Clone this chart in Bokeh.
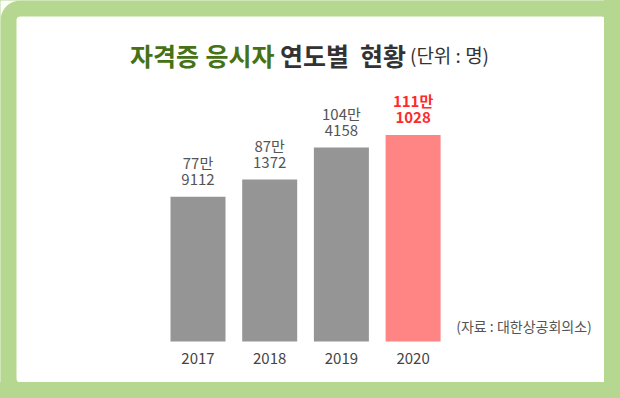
from bokeh.plotting import figure
from bokeh.models import Range1d, BoxAnnotation, ColumnDataSource, GlobalInlineStyleSheet
from bokeh.core.properties import value
from bokeh.embed import file_html
from bokeh.resources import INLINE

# ---- data ----
years = ["2017", "2018", "2019", "2020"]
applicants = [779112, 871372, 1044158, 1111028]
bar_colors = ["#959595", "#959595", "#959595", "#ff8585"]
label_colors = ["#555555", "#555555", "#555555", "#ff2a2a"]
label_styles = ["normal", "normal", "normal", "bold"]
title_words = ["자격증", "응시자", "연도별", "현황"]
title_colors = ["#467114", "#467114", "#333333", "#333333"]
unit_text = "(단위 : 명)"
source_note = "(자료 : 대한상공회의소)"

FONT = "Noto Sans CJK KR"
W, H = 604, 382
GREEN = "#b5d78f"

p = figure(width=W, height=H, x_range=Range1d(0, W), y_range=Range1d(0, H),
           x_axis_type=None, y_axis_type=None, output_backend="svg",
           toolbar_location=None, min_border=0,
           background_fill_color="white", border_fill_color="white",
           outline_line_color=None)
p.stylesheets = [GlobalInlineStyleSheet(css="html,body{margin:0;padding:0;background:%s;}" % GREEN)]

# green frame with rounded corner, and white panel
p.add_layout(BoxAnnotation(left=0, right=W + 40, bottom=-40, top=H,
                           fill_color=GREEN, fill_alpha=1, line_color=None,
                           border_radius=20, level="underlay"))
p.add_layout(BoxAnnotation(left=16, right=605, bottom=0, top=H - 16,
                           fill_color="white", fill_alpha=1, line_color=None,
                           border_radius=4, level="underlay"))

# scales for bars
p.extra_x_ranges = {"yr": Range1d(-2.7545, 5.6695)}
p.extra_y_ranges = {"val": Range1d(-220550, 1834320)}

idx = list(range(len(years)))
src = ColumnDataSource(dict(
    x=idx, year=years, v=applicants, color=bar_colors, lc=label_colors, ls=label_styles,
    top_line=[f"{v // 10000}만" for v in applicants],
    bot_line=[f"{v % 10000:04d}" for v in applicants],
))

p.vbar(x="x", top="v", bottom=0, width=0.767, fill_color="color", line_color=None,
       source=src, x_range_name="yr", y_range_name="val")

for col, off in (("top_line", -34), ("bot_line", -17)):
    p.text(x="x", y="v", text=col, source=src, x_range_name="yr", y_range_name="val",
           y_offset=off, text_align="center", text_baseline="middle",
           text_color="lc", text_font=value(FONT), text_font_size="15px",
           text_font_style="ls")

p.text(x="x", y=0, text="year", source=src, x_range_name="yr", y_range_name="val",
       y_offset=17, text_align="center", text_baseline="middle",
       text_color="#444444", text_font=value(FONT), text_font_size="15px")

# title
title_x = [164, 239.5, 314, 382.5]
p.text(x=title_x, y=[H - 54] * 4, text=title_words, text_color=title_colors,
       text_align="center", text_baseline="middle", text_font=value(FONT),
       text_font_size="25px", text_font_style="bold")
p.text(x=[449], y=[H - 54], text=[unit_text], text_color="#333333",
       text_align="center", text_baseline="middle", text_font=value(FONT),
       text_font_size="19px")

# source note
p.text(x=[523.5], y=[H - 325], text=[source_note], text_color="#555555",
       text_align="center", text_baseline="middle", text_font=value(FONT),
       text_font_size="14px")

open("out.html", "w").write(file_html(p, INLINE))
